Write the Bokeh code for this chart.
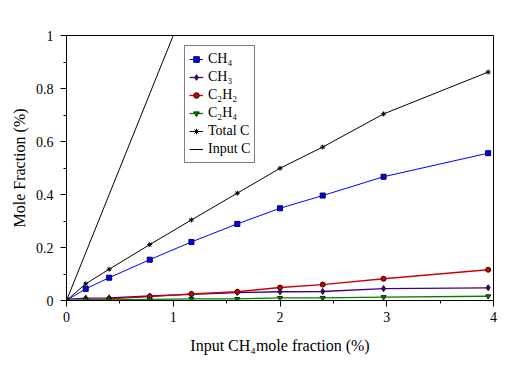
from bokeh.plotting import figure
from bokeh.models import Range1d, SingleIntervalTicker, NumeralTickFormatter, Legend, LegendItem
from bokeh.embed import file_html
from bokeh.resources import INLINE

x_input = [0, 0.18, 0.40, 0.78, 1.17, 1.60, 2.00, 2.40, 2.97, 3.95]
ch4 = [0, 0.044, 0.086, 0.154, 0.221, 0.289, 0.348, 0.396, 0.467, 0.556]
ch3 = [0.004, 0.009, 0.010, 0.017, 0.023, 0.030, 0.033, 0.034, 0.045, 0.048]
c2h2 = [0, 0.002, 0.006, 0.015, 0.025, 0.033, 0.049, 0.060, 0.082, 0.116]
c2h4 = [0, 0.001, 0.002, 0.004, 0.006, 0.006, 0.010, 0.010, 0.013, 0.016]
total_c = [0, 0.063, 0.118, 0.211, 0.304, 0.405, 0.499, 0.579, 0.704, 0.862]
input_c = [0, 0.18, 0.40, 0.78, 1.17, 1.60, 2.00, 2.40, 2.97, 3.95]

FONT = "Liberation Serif"

p = figure(width=509, height=378, output_backend="svg", toolbar_location=None,
           x_range=Range1d(0, 4), y_range=Range1d(0, 1),
           min_border_left=66, min_border_right=16, min_border_top=35, min_border_bottom=78)
p.xgrid.visible = False
p.ygrid.visible = False
p.outline_line_color = "black"
p.outline_line_width = 1
p.background_fill_color = "white"
p.border_fill_color = "white"

for ax in (p.xaxis[0], p.yaxis[0]):
    ax.major_tick_out = 6
    ax.major_tick_in = 0
    ax.minor_tick_out = 3
    ax.minor_tick_in = 0
    ax.axis_line_color = "black"
    ax.major_tick_line_color = "black"
    ax.minor_tick_line_color = "black"
    ax.major_label_text_font = FONT
    ax.major_label_text_font_size = "14px"
    ax.major_label_text_color = "black"
    ax.axis_label_text_font = FONT
    ax.axis_label_text_font_size = "16px"
    ax.axis_label_text_font_style = "normal"
    ax.axis_label_text_color = "black"
    ax.formatter = NumeralTickFormatter(format="0.[0]")

p.xaxis.ticker = SingleIntervalTicker(interval=1, num_minor_ticks=2)
p.yaxis.ticker = SingleIntervalTicker(interval=0.2, num_minor_ticks=2)
p.xaxis.axis_label = "Input CH\u2084mole fraction (%)"
p.yaxis.axis_label = "Mole Fraction (%)"
p.xaxis.axis_label_standoff = 12
p.yaxis.axis_label_standoff = 5
p.yaxis.major_label_standoff = 7

l1 = p.line(x_input, input_c, line_color="black", line_width=1)

lt = p.line(x_input, total_c, line_color="black", line_width=1)
st = p.scatter(x_input, total_c, marker="asterisk", size=5, line_color="black", line_width=1)

l_ch4 = p.line(x_input, ch4, line_color="#0000FF", line_width=1)
s_ch4 = p.scatter(x_input, ch4, marker="square", size=5, fill_color="#0000FF", line_color="#000040", line_width=1)

l_ch3 = p.line(x_input, ch3, line_color="#400080", line_width=1.3)
s_ch3 = p.scatter(x_input, ch3, marker="diamond", size=6, fill_color="#400080", line_color="#200040", line_width=1)

l_c2h2 = p.line(x_input, c2h2, line_color="#CC0000", line_width=1.3)
s_c2h2 = p.scatter(x_input, c2h2, marker="circle", size=5, fill_color="#CC0000", line_color="#400000", line_width=1)

l_c2h4 = p.line(x_input, c2h4, line_color="#008000", line_width=1.3)
s_c2h4 = p.scatter(x_input, c2h4, marker="inverted_triangle", size=5, fill_color="#008000", line_color="#003000", line_width=1)

legend = Legend(items=[
    LegendItem(label="CH\u2084", renderers=[l_ch4, s_ch4]),
    LegendItem(label="CH\u2083", renderers=[l_ch3, s_ch3]),
    LegendItem(label="C\u2082H\u2082", renderers=[l_c2h2, s_c2h2]),
    LegendItem(label="C\u2082H\u2084", renderers=[l_c2h4, s_c2h4]),
    LegendItem(label="Total C", renderers=[lt, st]),
    LegendItem(label="Input C", renderers=[l1]),
], location=(118, 137))
legend.label_text_font = FONT
legend.label_text_font_size = "14px"
legend.label_text_color = "black"
legend.border_line_color = "black"
legend.border_line_width = 1
legend.padding = 4
legend.spacing = 0
legend.margin = 0
legend.label_height = 18
legend.glyph_height = 18
legend.glyph_width = 14
legend.label_standoff = 5
legend.background_fill_alpha = 1
p.add_layout(legend)

open("out.html", "w").write(file_html(p, INLINE))
